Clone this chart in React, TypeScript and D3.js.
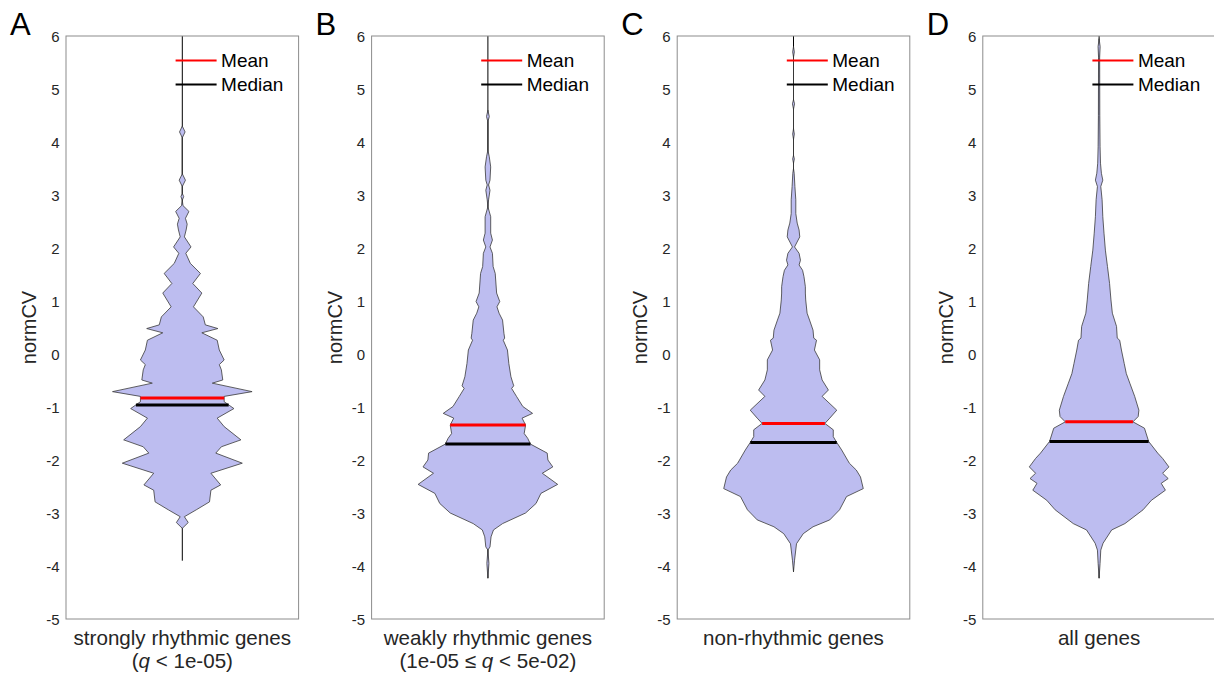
import React from 'react';
import * as d3 from 'd3';

// ---------- data ----------
const panelLetters = ['A', 'B', 'C', 'D'];
const yTicks = [-5, -4, -3, -2, -1, 0, 1, 2, 3, 4, 5, 6];
const xLabelLine1 = ['strongly rhythmic genes', 'weakly rhythmic genes', 'non-rhythmic genes', 'all genes'];
// second line: [before italic, italic, after italic]
const xLabelLine2: [string, string, string][] = [
  ['(', 'q', ' < 1e-05)'],
  ['(1e-05 \u2264 ', 'q', ' < 5e-02)'],
  ['', '', ''],
  ['', '', ''],
];
const means = [-0.83, -1.34, -1.31, -1.28];
const medians = [-0.96, -1.7, -1.67, -1.65];
const dataMin = [-3.9, -4.23, -4.11, -4.23];
const dataMax = [6.4, 6.4, 6.4, 6.4];
const legendLabels = ['Mean', 'Median'];

// [normCV value, relative density (0..1)]
const profileA: [number, number][] = [
  [4.3, 0], [4.19, 0.04], [4.08, 0],
  [3.4, 0], [3.28, 0.045], [3.16, 0],
  [3.03, 0], [2.97, 0.02], [2.9, 0],
  [2.8, 0.01], [2.69, 0.095], [2.56, 0.045], [2.45, 0.07], [2.34, 0.055], [2.21, 0.03],
  [2.02, 0.125], [1.9, 0.05], [1.71, 0.115], [1.52, 0.26], [1.33, 0.15], [1.15, 0.28],
  [0.89, 0.16], [0.7, 0.3], [0.55, 0.33], [0.48, 0.51], [0.4, 0.28], [0.26, 0.5],
  [0.075, 0.53], [-0.113, 0.6], [-0.2, 0.53], [-0.3, 0.56], [-0.49, 0.58], [-0.55, 0.43],
  [-0.71, 1.0], [-0.8, 0.6], [-0.9, 0.6], [-1.03, 0.74], [-1.21, 0.5], [-1.37, 0.6],
  [-1.62, 0.84], [-1.75, 0.56], [-1.87, 0.48], [-2.06, 0.86], [-2.25, 0.41], [-2.47, 0.55],
  [-2.57, 0.41], [-2.79, 0.39], [-2.94, 0.2], [-3.07, 0.03], [-3.18, 0.085], [-3.29, 0],
];
const profileB: [number, number][] = [
  [4.6, 0], [4.48, 0.02], [4.38, 0],
  [3.85, 0], [3.72, 0.02], [3.53, 0.04], [3.28, 0.03], [3.19, 0.01], [3.09, 0.03], [2.91, 0.01],
  [2.78, 0], [2.59, 0.04], [2.28, 0.04], [2.15, 0.065], [2.02, 0.03], [1.9, 0.065], [1.65, 0.075],
  [1.52, 0.105], [1.15, 0.125], [0.99, 0.17], [0.89, 0.13], [0.77, 0.16], [0.64, 0.21], [0.39, 0.23],
  [0.3, 0.24], [0.26, 0.22], [0.075, 0.28], [-0.18, 0.3], [-0.43, 0.33], [-0.6, 0.37], [-0.65, 0.34],
  [-0.8, 0.41], [-0.99, 0.5], [-1.12, 0.64], [-1.21, 0.49], [-1.34, 0.54], [-1.5, 0.52], [-1.59, 0.57],
  [-1.7, 0.61], [-1.87, 0.85], [-2.0, 0.86], [-2.13, 0.93], [-2.25, 0.78], [-2.46, 1.0], [-2.63, 0.76],
  [-2.82, 0.69], [-3.0, 0.54], [-3.2, 0.21], [-3.32, 0.08], [-3.45, 0.045], [-3.64, 0.03], [-3.7, 0],
  [-3.95, 0.015], [-4.23, 0],
];
const profileC: [number, number][] = [
  [5.8, 0], [5.7, 0.012], [5.6, 0],
  [4.8, 0], [4.72, 0.015], [4.62, 0],
  [4.25, 0], [4.15, 0.012], [4.05, 0],
  [3.75, 0], [3.68, 0.012], [3.6, 0],
  [3.5, 0], [3.41, 0.01], [3.16, 0.02], [2.91, 0.033], [2.65, 0.033], [2.47, 0.053], [2.34, 0.08],
  [2.21, 0.09], [2.02, 0.015], [1.9, 0.08], [1.77, 0.1], [1.68, 0.08], [1.58, 0.13], [1.46, 0.15],
  [1.27, 0.17], [1.15, 0.17], [1.02, 0.175], [0.77, 0.195], [0.64, 0.23], [0.45, 0.28], [0.3, 0.29],
  [0.26, 0.33], [0.075, 0.3], [-0.11, 0.375], [-0.3, 0.375], [-0.49, 0.41], [-0.68, 0.5], [-0.8, 0.41],
  [-1.06, 0.62], [-1.21, 0.52], [-1.31, 0.45], [-1.43, 0.57], [-1.56, 0.57], [-1.67, 0.62], [-1.81, 0.69],
  [-2.06, 0.8], [-2.19, 0.9], [-2.32, 0.96], [-2.54, 1.0], [-2.69, 0.76], [-2.94, 0.66], [-3.13, 0.52],
  [-3.26, 0.28], [-3.39, 0.14], [-3.58, 0.043], [-3.89, 0.015], [-4.11, 0],
];
const profileD: [number, number][] = [
  [5.95, 0], [5.8, 0.015], [5.6, 0.008], [4.5, 0.01], [3.91, 0.014], [3.6, 0.02], [3.41, 0.033],
  [3.28, 0.053], [3.16, 0.024], [2.91, 0.043], [2.59, 0.053], [2.28, 0.07], [1.96, 0.09], [1.65, 0.12],
  [1.33, 0.15], [1.02, 0.17], [0.77, 0.19], [0.52, 0.25], [0.3, 0.26], [0.26, 0.295], [0.075, 0.32],
  [-0.18, 0.36], [-0.37, 0.39], [-0.55, 0.44], [-0.8, 0.51], [-1.06, 0.57], [-1.18, 0.56], [-1.28, 0.485],
  [-1.4, 0.65], [-1.65, 0.71], [-1.87, 0.84], [-1.97, 0.91], [-2.13, 1.0], [-2.25, 0.91], [-2.35, 0.99],
  [-2.44, 0.89], [-2.57, 0.95], [-2.76, 0.75], [-2.94, 0.63], [-3.2, 0.37], [-3.32, 0.18], [-3.57, 0.057],
  [-3.7, 0.024], [-3.95, 0.014], [-4.23, 0],
];
const profiles = [profileA, profileB, profileC, profileD];

// ---------- layout ----------
const W = 1214;
const H = 678;
const TOP = 36;
const BOTTOM = 619;
const FIRST_LEFT = 66;
const STEP = 305.6;
const AX_W = 232.6;
const FONT = "'Liberation Sans', Arial, Helvetica, sans-serif";
const VIOLIN_FILL = '#bdbdf0';

const y = d3.scaleLinear().domain([-5, 6]).range([BOTTOM, TOP]);
const halfW = d3.scaleLinear().domain([0, 1]).range([0, AX_W * 0.3]);

function Panel({ i }: { i: number }) {
  const left = FIRST_LEFT + i * STEP;
  const right = left + AX_W;
  const x = d3.scaleLinear().domain([0, 1]).range([left, right]);
  const cx = x(0.5);
  const prof = profiles[i];
  const area = d3
    .area<[number, number]>()
    .y((d) => y(d[0]))
    .x0((d) => cx - halfW(d[1]))
    .x1((d) => cx + halfW(d[1]))
    .curve(d3.curveLinear);
  const dens = d3.scaleLinear().domain(prof.map((p) => p[0])).range(prof.map((p) => p[1])).clamp(true);
  const meanHW = halfW(dens(means[i]));
  const medHW = halfW(dens(medians[i]));
  const [pre, ital, post] = xLabelLine2[i];
  const legendX0 = right - 123;
  const legendX1 = right - 82;
  const legendTX = right - 77.5;
  const legendY = [60.5, 84.5];
  const legendColors = ['#ff0000', '#000000'];
  return (
    <g>
      {/* whisker line */}
      <line
        x1={cx}
        x2={cx}
        y1={y(Math.max(dataMin[i], -5))}
        y2={y(Math.min(dataMax[i], 6))}
        stroke="#000"
        strokeWidth={1}
      />
      {/* violin */}
      <path d={area(prof) || ''} fill={VIOLIN_FILL} stroke="#3a3a3a" strokeWidth={0.8} strokeLinejoin="round" />
      {/* mean / median */}
      <line x1={cx - meanHW} x2={cx + meanHW} y1={y(means[i])} y2={y(means[i])} stroke="#ff0000" strokeWidth={3} />
      <line x1={cx - medHW} x2={cx + medHW} y1={y(medians[i])} y2={y(medians[i])} stroke="#000" strokeWidth={3} />
      {/* axes box */}
      <rect x={left} y={TOP} width={AX_W} height={BOTTOM - TOP} fill="none" stroke="#8c8c8c" strokeWidth={1} />
      {/* y tick labels */}
      {yTicks.map((t) => (
        <text
          key={t}
          x={left - 6.5}
          y={y(t)}
          textAnchor="end"
          dominantBaseline="central"
          fontFamily={FONT}
          fontSize={15}
          fill="#262626"
        >
          {t}
        </text>
      ))}
      {/* y label */}
      <text
        transform={`translate(${left - 30},${(TOP + BOTTOM) / 2}) rotate(-90)`}
        textAnchor="middle"
        fontFamily={FONT}
        fontSize={20}
        fill="#262626"
      >
        normCV
      </text>
      {/* panel letter */}
      <text x={left - 56} y={35} fontFamily={FONT} fontSize={31} fill="#000">
        {panelLetters[i]}
      </text>
      {/* x labels */}
      <text x={cx} y={645} textAnchor="middle" fontFamily={FONT} fontSize={20.6} fill="#262626">
        {xLabelLine1[i]}
      </text>
      {(pre || ital || post) && (
        <text x={cx} y={668} textAnchor="middle" fontFamily={FONT} fontSize={20.6} fill="#262626">
          <tspan>{pre}</tspan>
          <tspan fontStyle="italic">{ital}</tspan>
          <tspan>{post}</tspan>
        </text>
      )}
      {/* legend */}
      {legendLabels.map((lab, k) => (
        <g key={lab}>
          <line x1={legendX0} x2={legendX1} y1={legendY[k]} y2={legendY[k]} stroke={legendColors[k]} strokeWidth={2} />
          <text
            x={legendTX}
            y={legendY[k]}
            dominantBaseline="central"
            fontFamily={FONT}
            fontSize={19}
            fill="#000"
          >
            {lab}
          </text>
        </g>
      ))}
    </g>
  );
}

export default function App() {
  return (
    <svg
      width={W}
      height={H}
      viewBox={`0 0 ${W} ${H}`}
      style={{ position: 'absolute', left: 0, top: 0, background: '#fff' }}
    >
      <rect x={0} y={0} width={W} height={H} fill="#fff" />
      {panelLetters.map((_, i) => (
        <Panel key={i} i={i} />
      ))}
    </svg>
  );
}
